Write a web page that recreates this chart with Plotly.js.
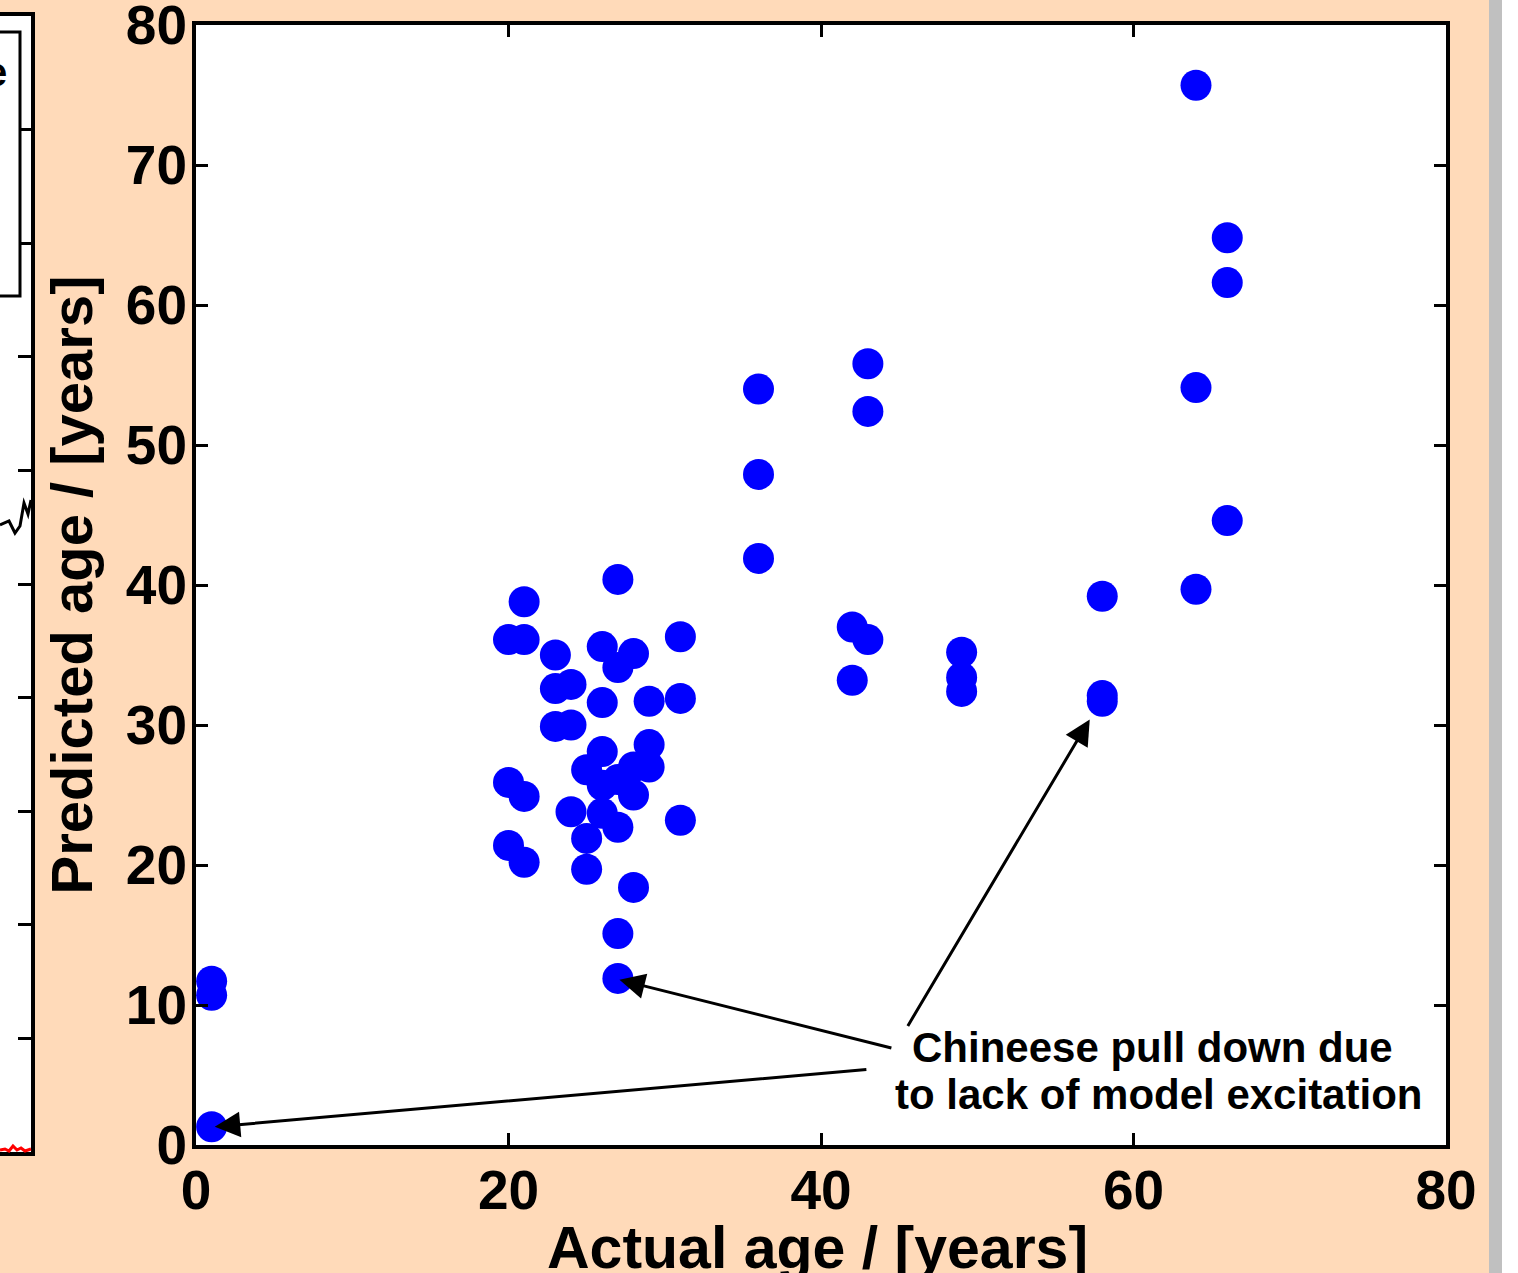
<!DOCTYPE html>
<html>
<head>
<meta charset="utf-8">
<script src="https://cdn.plot.ly/plotly-3.0.1.min.js"></script>
<style>
html,body{margin:0;padding:0;background:#FFDAB9;}
#chart{width:1518px;height:1273px;}
</style>
</head>
<body>
<div id="chart"></div>
<script>
// Data
const actualAge = [1,1,1, 20,20,20, 21,21,21,21, 23,23,23, 24,24,24, 25,25,25,
  26,26,26,26,26, 27,27,27,27,27,27, 28,28,28,28, 29,29,29, 31,31,31,
  36,36,36, 42,42, 43,43,43, 49,49,49, 58,58,58, 64,64,64, 66,66,66];
const predictedAge = [11.7,10.7,1.3, 36.1,25.9,21.4, 38.8,36.1,24.9,20.2, 35.0,32.6,29.9, 32.9,30.0,23.8, 26.8,21.9,19.7,
  35.6,31.6,28.1,25.7,23.7, 40.4,34.1,26.1,22.7,15.1,11.9, 35.1,27.0,25.0,18.4, 31.7,28.6,27.0, 36.3,31.9,23.2,
  54.0,47.9,41.9, 37.0,33.2, 55.8,52.4,36.1, 35.2,33.4,32.4, 39.2,32.1,31.7, 75.7,54.1,39.7, 64.8,61.6,44.6];
const tickVals = [0,20,40,60,80];
const yTickVals = [0,10,20,30,40,50,60,70,80];
const xTitle = "Actual age / [years]";
const yTitle = "Predicted age / [years]";
const noteLines = ["Chineese pull down due", "to lack of model excitation"];
// note line anchors (data units)
const noteX = [61.2, 61.6];
const noteY = [7.0, 3.6];
// arrows: head (x,y) and tail (ax,ay) in data units
const arrowHeads = [[27.1,11.8],[1.2,1.3],[57.2,30.4]];
const arrowTails = [[44.6,6.9],[43.0,5.4],[45.5,8.4]];

const W = 1518, H = 1273;
const px = x => x / W;
const py = y => 1 - y / H;
const FONT = {family: '"Liberation Sans", Arial, Helvetica, sans-serif', color: '#000', weight: 'bold'};

const trace = {
  x: actualAge, y: predictedAge, type: 'scatter', mode: 'markers',
  marker: {color: '#0000FF', size: 31, line: {width: 0}},
  xaxis: 'x', yaxis: 'y', hoverinfo: 'x+y'
};
// empty trace for neighbouring (cropped) panel on the left
const leftTrace = {x: [], y: [], xaxis: 'x2', yaxis: 'y2', type: 'scatter', showlegend: false};

const annotations = arrowHeads.map((h, i) => ({
  x: h[0], y: h[1], ax: arrowTails[i][0], ay: arrowTails[i][1],
  xref: 'x', yref: 'y', axref: 'x', ayref: 'y',
  text: '', showarrow: true, arrowhead: 2, arrowsize: 1.7, arrowwidth: 3, arrowcolor: '#000'
}));
noteLines.forEach((t, i) => annotations.push({
  x: noteX[i], y: noteY[i], xref: 'x', yref: 'y', text: t, showarrow: false,
  xanchor: 'center', yanchor: 'middle', align: 'center',
  font: Object.assign({}, FONT, {size: 42})
}));
// x-axis title (sits partly below the picture's bottom edge, as in the reference)
annotations.push({
  x: px(818), y: py(1248), xref: 'paper', yref: 'paper', text: xTitle, showarrow: false,
  xanchor: 'center', yanchor: 'middle', font: Object.assign({}, FONT, {size: 59})
});
annotations.push({
  x: px(9), y: py(72), xref: 'paper', yref: 'paper', text: 'e', showarrow: false,
  xanchor: 'right', yanchor: 'middle', font: Object.assign({}, FONT, {size: 40})
});

const shapes = [
  // gray scroll bar strip and white edge on the right
  {type: 'rect', xref: 'paper', yref: 'paper', x0: px(1489), x1: px(1502), y0: 0, y1: 1, fillcolor: '#C0C0C0', line: {width: 0}, layer: 'below'},
  {type: 'rect', xref: 'paper', yref: 'paper', x0: px(1502), x1: 1, y0: 0, y1: 1, fillcolor: '#FFFFFF', line: {width: 0}, layer: 'below'},
  // cropped legend box of the neighbouring panel
  {type: 'rect', xref: 'paper', yref: 'paper', x0: px(-10), x1: px(20), y0: py(296), y1: py(32), fillcolor: '#FFFFFF', line: {color: '#000', width: 3}},
  // squiggle
  {type: 'path', xref: 'paper', yref: 'paper', line: {color: '#000', width: 3},
   path: 'M' + px(0) + ',' + py(525) + ' L' + px(9) + ',' + py(521) + ' L' + px(15) + ',' + py(533) + ' L' + px(20) + ',' + py(526) + ' L' + px(24) + ',' + py(503) + ' L' + px(28) + ',' + py(514) + ' L' + px(31) + ',' + py(500)},
  // red wiggle at bottom
  {type: 'path', xref: 'paper', yref: 'paper', line: {color: '#FF0000', width: 3},
   path: 'M' + px(0) + ',' + py(1150) + ' L' + px(5) + ',' + py(1149) + ' L' + px(9) + ',' + py(1151) + ' L' + px(13) + ',' + py(1146) + ' L' + px(17) + ',' + py(1150) + ' L' + px(21) + ',' + py(1148) + ' L' + px(25) + ',' + py(1151) + ' L' + px(31) + ',' + py(1149)}
];

const layout = {
  width: W, height: H,
  margin: {l: 0, r: 0, t: 0, b: 0, pad: 0},
  paper_bgcolor: '#FFDAB9', plot_bgcolor: '#FFFFFF',
  showlegend: false,
  font: Object.assign({}, FONT, {size: 52}),
  xaxis: {
    domain: [px(196), px(1446)], range: [0, 80], anchor: 'y',
    tickvals: tickVals, ticks: 'inside', ticklen: 12, tickwidth: 3, tickcolor: '#000',
    showline: true, linecolor: '#000', linewidth: 4, mirror: 'ticks',
    showgrid: false, zeroline: false, ticklabelstandoff: -6, ticklabeloverflow: 'allow',
    tickfont: Object.assign({}, FONT, {size: 55})
  },
  yaxis: {
    domain: [py(1145), py(25)], range: [0, 80], anchor: 'x',
    tickvals: yTickVals, ticks: 'inside', ticklen: 12, tickwidth: 3, tickcolor: '#000',
    showline: true, linecolor: '#000', linewidth: 4, mirror: 'ticks',
    showgrid: false, zeroline: false, ticklabelstandoff: -6, ticklabeloverflow: 'allow',
    tickfont: Object.assign({}, FONT, {size: 55}),
    title: {text: yTitle, font: Object.assign({}, FONT, {size: 58}), standoff: 16}
  },
  xaxis2: {
    domain: [0, px(31)], range: [0, 1], anchor: 'y2',
    showline: true, linecolor: '#000', linewidth: 4, mirror: true,
    ticks: '', showticklabels: false, showgrid: false, zeroline: false
  },
  yaxis2: {
    domain: [py(1152), py(16)], range: [0, 10], anchor: 'x2', side: 'right',
    showline: true, linecolor: '#000', linewidth: 4,
    dtick: 1, ticks: 'inside', ticklen: 13, tickwidth: 3, tickcolor: '#000',
    showticklabels: false, showgrid: false, zeroline: false
  },
  annotations: annotations,
  shapes: shapes
};

Plotly.newPlot('chart', [trace, leftTrace], layout, {displayModeBar: false, responsive: false});
</script>
</body>
</html>
